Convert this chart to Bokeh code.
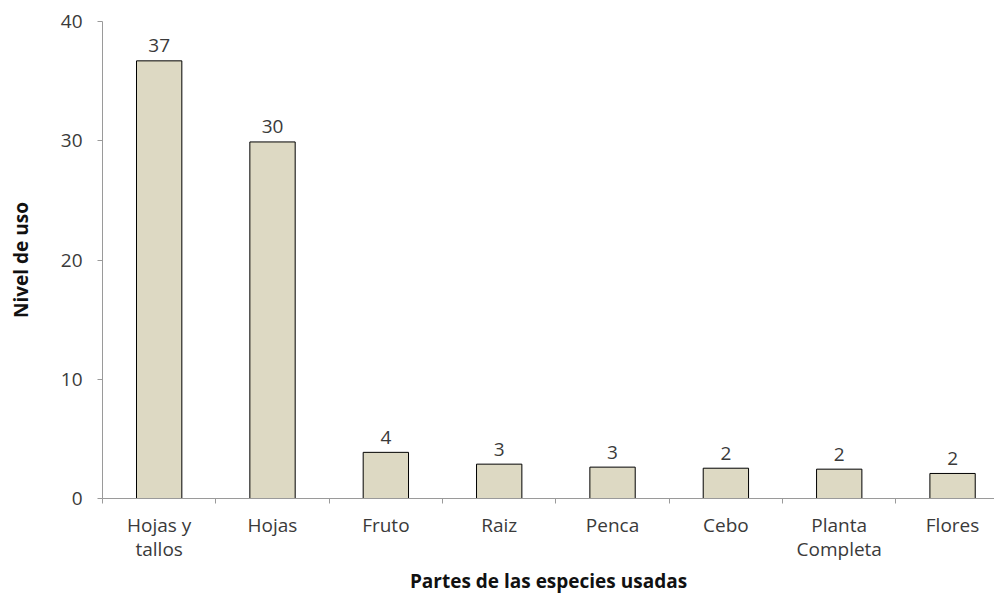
from bokeh.plotting import figure
from bokeh.models import ColumnDataSource, FixedTicker, Range1d
from bokeh.core.properties import value
from bokeh.embed import file_html
from bokeh.resources import INLINE

categories = ["Hojas y\ntallos", "Hojas", "Fruto", "Raiz", "Penca", "Cebo", "Planta\nCompleta", "Flores"]
values = [36.7, 29.9, 3.87, 2.88, 2.63, 2.54, 2.46, 2.1]
value_labels = ["37", "30", "4", "3", "3", "2", "2", "2"]
y_ticks = [0, 10, 20, 30, 40]
x_title = "Partes de las especies usadas"
y_title = "Nivel de uso"

FONT = "Open Sans"
TXT = "#3a3a3a"
AX = "#9a9a9a"

xs = [i + 0.5 for i in range(len(categories))]
src = ColumnDataSource(dict(x=xs, top=values, lab=value_labels))

p = figure(width=994, height=597, output_backend="svg", toolbar_location=None,
           x_range=Range1d(0, 7.87), y_range=Range1d(0, 40),
           min_border_left=102, min_border_right=0, min_border_top=21, min_border_bottom=95)
p.outline_line_color = None
p.xgrid.grid_line_color = None
p.ygrid.grid_line_color = None

p.vbar(x="x", top="top", width=0.4, bottom=0, source=src,
       fill_color="#DDD9C3", line_color="#000000", line_width=1)
p.text(x="x", y="top", text="lab", source=src, text_align="center", text_baseline="alphabetic",
       y_offset=-15, text_font=value(FONT), text_font_size="19px", text_color=TXT)

xa = p.xaxis[0]
xa.ticker = FixedTicker(ticks=xs, minor_ticks=list(range(len(categories) + 1)))
xa.major_label_overrides = {x: c for x, c in zip(xs, categories)}
xa.major_tick_line_color = None
xa.minor_tick_line_color = AX
xa.minor_tick_out = 5
xa.minor_tick_in = 0
xa.axis_line_color = AX
xa.major_label_text_font = FONT
xa.major_label_text_font_size = "19px"
xa.major_label_text_color = TXT
xa.major_label_text_line_height = 0.96
xa.major_label_standoff = 7
xa.axis_label = x_title
xa.axis_label_text_font = FONT
xa.axis_label_text_font_style = "bold"
xa.axis_label_text_font_size = "19px"
xa.axis_label_text_line_height = 0.85
xa.axis_label_text_color = "#111111"
xa.axis_label_standoff = 3

ya = p.yaxis[0]
ya.ticker = FixedTicker(ticks=y_ticks, minor_ticks=[])
ya.major_tick_line_color = AX
ya.major_tick_out = 5
ya.major_tick_in = 0
ya.minor_tick_line_color = None
ya.axis_line_color = AX
ya.major_label_text_font = FONT
ya.major_label_text_font_size = "19px"
ya.major_label_text_color = TXT
ya.major_label_standoff = 15
ya.axis_label = y_title
ya.axis_label_text_font = FONT
ya.axis_label_text_font_style = "bold"
ya.axis_label_text_font_size = "19px"
ya.axis_label_text_line_height = 1.0
ya.axis_label_text_color = "#111111"
ya.axis_label_standoff = 24

open("out.html", "w").write(file_html(p, INLINE))
